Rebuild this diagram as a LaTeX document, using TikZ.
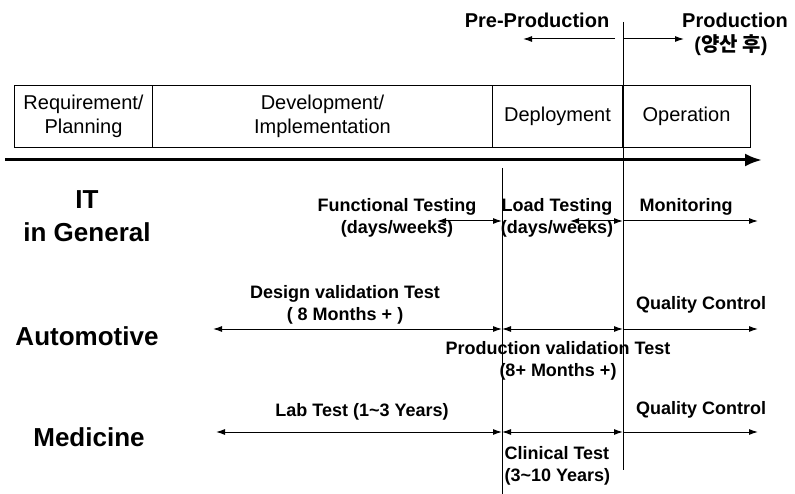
\documentclass[tikz,border=0pt]{standalone}
\usepackage{fontspec}
\setmainfont{Liberation Sans}
\newfontfamily\krfont{Noto Sans CJK KR}
\usetikzlibrary{arrows.meta, positioning}
\tikzset{
>={Latex[length=9pt,width=6pt]}, % small filled tips on every span
every node/.style={inner sep=0pt}, % text sits right on its coordinate
}

\begin{document}
\begin{tikzpicture}[x=1pt, y=-1pt, line width=1pt,
    box/.style = {draw, minimum height=62pt, anchor=north west, align=center, font=\fontsize{20}{24}\selectfont},
    cat/.style = {align=center, font=\bfseries\fontsize{26}{33}\selectfont},
    lbl/.style = {align=center, font=\bfseries\fontsize{18}{22}\selectfont},
    head/.style = {align=center, font=\bfseries\fontsize{20}{24}\selectfont}]
    \useasboundingbox (0,0) rectangle (795,494);

    % phases
    \node[box, minimum width=138pt] (req) at (14,85) {Requirement/\\Planning};
    \node[box, minimum width=340pt] (dev) at (152,85) {Development/\\Implementation};
    \node[box, minimum width=130pt] (dep) at (492,85) {Deployment};
    \node[box, minimum width=128pt] (ope) at (622,85) {Operation};

    % time axis
    \coordinate (t0) at (5,160);
    \coordinate (t1) at (762,160);
    \draw[line width=3pt, -{Latex[length=17pt,width=13pt]}] (t0) -- (t1);

    % borders
    \coordinate (pa) at (502,168);
    \coordinate (pb) at (502,494);
    \coordinate (qa) at (623,22);
    \coordinate (qb) at (623,470);
    \draw (pa) -- (pb);
    \draw (qa) -- (qb);

    % header
    \node[head] (pre) at (537,20) {Pre-Production};
    \node[head] (prod) at (735,20) {Production};
    \node[head] (after) at (731,45) {({\krfont 양산 후})};
    \coordinate (h0) at (523,39);
    \coordinate (h1) at (615,39);
    \coordinate (h2) at (623,39);
    \coordinate (h3) at (684,39);
    \draw[->] (h1) -- (h0);
    \draw[->] (h2) -- (h3);

    % IT
    \node[cat] (it) at (87,216) {IT\\in General};
    \coordinate (i0) at (437,221);
    \coordinate (i1) at (502,221);
    \coordinate (i2) at (570,221);
    \coordinate (i3) at (623,221);
    \coordinate (i4) at (758,221);
    \draw[<->] (i0) -- (i1);
    \draw[<->] (i2) -- (i3);
    \draw[->] (i3) -- (i4);
    \node[lbl] (func) at (397,218) {Functional Testing\\(days/weeks)};
    \node[lbl] (load) at (557,218) {Load Testing\\(days/weeks)};
    \node[lbl] (mon) at (686,207) {Monitoring};

    % Automotive
    \node[cat] (auto) at (87,336) {Automotive};
    \coordinate (a0) at (213,329);
    \coordinate (a1) at (502,329);
    \coordinate (a2) at (623,329);
    \coordinate (a3) at (758,329);
    \draw[<->] (a0) -- (a1);
    \draw[<->] (a1) -- (a2);
    \draw[->] (a2) -- (a3);
    \node[lbl] (dvt) at (345,305) {Design validation Test\\( 8 Months + )};
    \node[lbl] (aqc) at (701,305) {Quality Control};
    \node[lbl] (pvt) at (558,361) {Production validation Test\\(8+ Months +)};

    % Medicine
    \node[cat] (med) at (89,437) {Medicine};
    \coordinate (m0) at (216,432);
    \coordinate (m1) at (502,432);
    \coordinate (m2) at (623,432);
    \coordinate (m3) at (758,432);
    \draw[<->] (m0) -- (m1);
    \draw[<->] (m1) -- (m2);
    \draw[->] (m2) -- (m3);
    \node[lbl] (lab) at (362,412) {Lab Test (1\textasciitilde 3 Years)};
    \node[lbl] (mqc) at (701,410) {Quality Control};
    \node[lbl, anchor=west, align=left] (clin) at (504,466) {Clinical Test\\(3\textasciitilde 10 Years)};
\end{tikzpicture}
\end{document}
